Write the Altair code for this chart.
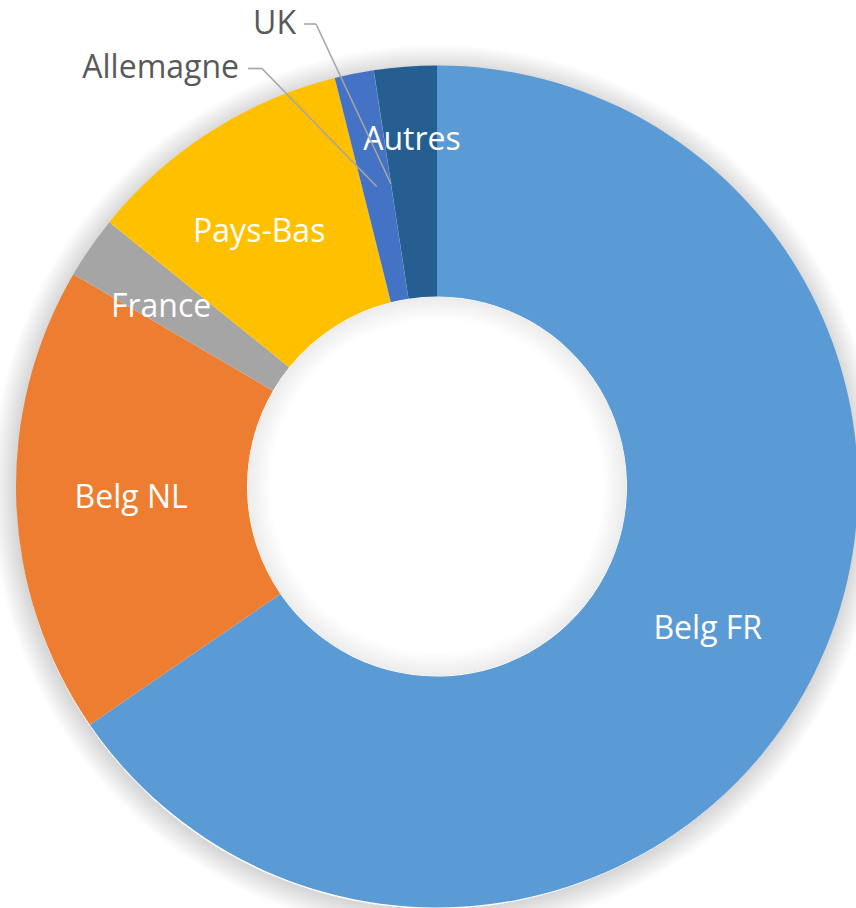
import math
import altair as alt
import pandas as pd

# ---- data ----
categories = ["Belg FR", "Belg NL", "France", "Pays-Bas", "Allemagne", "UK", "Autres"]
shares = [65.5, 18.0, 2.4, 10.3, 1.5, 0.01, 2.4]
colors = ["#5B9BD5", "#ED7D31", "#A5A5A5", "#FFC000", "#4472C4", "#4472C4", "#255E91"]

df = pd.DataFrame({"cat": categories, "share": shares, "idx": list(range(len(categories)))})

# ---- layout ----
W, H = 838, 843
PAD_L, PAD_T = 18, 65
CX, CY = W / 2, H / 2
R_OUT, R_IN = 421, 190
R_LAB = 306
FONT = "Open Sans"
FS = 32

inside_nudge = {"Belg FR": (0, 0), "Belg NL": (0, 0), "France": (-24, -6),
                "Pays-Bas": (-13, 3), "Autres": (-2, -41)}
# outside labels: text anchor (right end), stub start, bend point (plot coords)
outside = {
    "Allemagne": {"tx": 221, "ty": 3, "sx": 230, "bx": 244, "by": 3.5},
    "UK": {"tx": 278, "ty": -41, "sx": 286, "bx": 298, "by": -41},
}

base = alt.Chart(df)

angles = base.transform_joinaggregate(total="sum(share)").transform_window(
    cum="sum(share)", sort=[alt.SortField("idx")], frame=[None, 0]
).transform_calculate(
    mid="(datum.cum - datum.share / 2) / datum.total * 2 * PI",
    lx=f"{CX} + {R_LAB} * sin(datum.mid)",
    ly=f"{CY} - {R_LAB} * cos(datum.mid)",
)

dummy = alt.Chart(pd.DataFrame({"d": [0]}))
layers = []

# outer soft shadow
n_out = 20
for i in range(n_out):
    layers.append(
        dummy.mark_arc(innerRadius=R_OUT - 2, outerRadius=R_OUT + 1 + 1.2 * i,
                       fill="#000000", opacity=0.006)
        .encode(theta=alt.value(0), theta2=alt.value(2 * math.pi),
                x=alt.value(CX - 1), y=alt.value(CY + 3))
    )

arcs = base.mark_arc(outerRadius=R_OUT, innerRadius=R_IN).encode(
    theta=alt.Theta("share:Q", stack=True),
    order=alt.Order("idx:Q"),
    color=alt.Color("cat:N", scale=alt.Scale(domain=categories, range=colors), legend=None),
)
layers.append(arcs)

# inner hole shadow
n_in = 20
for i in range(n_in):
    layers.append(
        dummy.mark_arc(innerRadius=R_IN - 1 - 1.2 * i, outerRadius=R_IN,
                       fill="#000000", opacity=0.005)
        .encode(theta=alt.value(0), theta2=alt.value(2 * math.pi))
    )

# inside labels
for cat, (ndx, ndy) in inside_nudge.items():
    layers.append(
        angles.transform_filter(alt.datum.cat == cat)
        .mark_text(font=FONT, fontSize=FS, color="white", align="center",
                   baseline="middle", dx=ndx, dy=ndy)
        .encode(x=alt.X("lx:Q", scale=None), y=alt.Y("ly:Q", scale=None), text="cat:N")
    )

# outside labels with leader lines
for cat, p in outside.items():
    sel = angles.transform_filter(alt.datum.cat == cat).transform_calculate(
        tx=f"{p['tx']}", ty=f"{p['ty']}", sx=f"{p['sx']}", bx=f"{p['bx']}", by=f"{p['by']}"
    )
    layers.append(
        sel.mark_text(font=FONT, fontSize=FS, color="#595959", align="right", baseline="middle")
        .encode(x=alt.X("tx:Q", scale=None), y=alt.Y("ty:Q", scale=None), text="cat:N")
    )
    layers.append(
        sel.mark_rule(color="#A6A6A6", strokeWidth=1.6)
        .encode(x=alt.X("sx:Q", scale=None), y=alt.Y("by:Q", scale=None),
                x2="bx:Q", y2="by:Q")
    )
    layers.append(
        sel.mark_rule(color="#A6A6A6", strokeWidth=1.6)
        .encode(x=alt.X("bx:Q", scale=None), y=alt.Y("by:Q", scale=None),
                x2="lx:Q", y2="ly:Q")
    )

chart = alt.layer(*layers).properties(
    width=W, height=H,
    padding={"left": PAD_L, "top": PAD_T, "right": 0, "bottom": 0},
    autosize=alt.AutoSizeParams(type="none"),
    background="white",
).configure_view(strokeWidth=0)

chart.save("out.html", embed_options={"renderer": "svg", "actions": False})
